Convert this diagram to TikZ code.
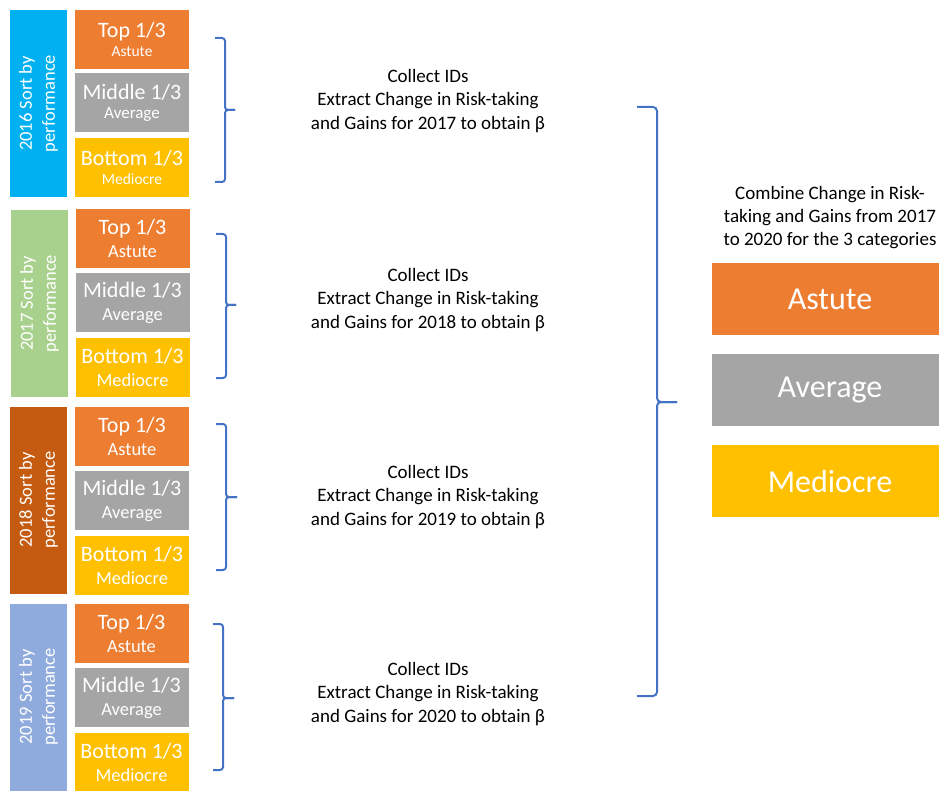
\documentclass[tikz,border=0pt]{standalone}
\usepackage{fontspec}
\setmainfont{Carlito}
\usetikzlibrary{positioning}
\definecolor{sortA}{HTML}{00B0F0}
\definecolor{sortB}{HTML}{A9D18E}
\definecolor{sortC}{HTML}{C55A11}
\definecolor{sortD}{HTML}{8FAADC}
\definecolor{topc}{HTML}{ED7D31}
\definecolor{midc}{HTML}{A5A5A5}
\definecolor{botc}{HTML}{FFC000}
\definecolor{bracec}{HTML}{4472C4}

\begin{document}
\begin{tikzpicture}[x=1pt,y=-1pt,
  bar/.style={minimum width=187pt,minimum height=57pt,inner sep=0pt,text=white,align=center,rotate=90,font=\fontsize{18.5}{23}\selectfont},
  box/.style={minimum width=114pt,minimum height=59pt,inner sep=0pt,text=white,align=center,font=\fontsize{22}{22}\selectfont},
  note/.style={align=center,font=\fontsize{19}{23.5}\selectfont},
  result/.style={minimum width=236pt,minimum height=72pt,inner sep=0pt,text=white,font=\fontsize{32}{32}\selectfont},
  bracket/.style={draw=bracec,line width=2pt,rounded corners=3pt}]
  \useasboundingbox (0,0) rectangle (939,791);
  \node (S16) [bar,fill=sortA] at (38.5,103.5) {2016 Sort by\\performance};
  \node (T16) [box,fill=topc] at (132,39.5) {Top 1/3\\[-3pt]{\fontsize{15.5}{16}\selectfont Astute}};
  \node (M16) [box,fill=midc,below=4pt of T16] {Middle 1/3\\[-3pt]{\fontsize{17}{17}\selectfont Average}};
  \node (B16) [box,fill=botc,below=5pt of M16] {Bottom 1/3\\[-3pt]{\fontsize{15.5}{16}\selectfont Mediocre}};
  \coordinate (u16) at (215,38);
  \coordinate (d16) at (215,182);
  \coordinate (t16) at (235,110);
  \draw[bracket] (u16) -- ++(10,0) |- (t16);
  \draw[bracket] (d16) -- ++(10,0) |- (t16);
  \node (C16) [note] at (428,101) {Collect IDs\\Extract Change in Risk-taking\\and Gains for 2017 to obtain β};

  \node (S17) [bar,fill=sortB] at (39.5,303.5) {2017 Sort by\\performance};
  \node (T17) [box,fill=topc] at (132.5,238.5) {Top 1/3\\[1pt]{\fontsize{18.5}{19}\selectfont Astute}};
  \node (M17) [box,fill=midc,below=5pt of T17] {Middle 1/3\\[1pt]{\fontsize{18.5}{19}\selectfont Average}};
  \node (B17) [box,fill=botc,below=5pt of M17] {Bottom 1/3\\[1pt]{\fontsize{18.5}{19}\selectfont Mediocre}};
  \coordinate (u17) at (216,234);
  \coordinate (d17) at (216,378);
  \coordinate (t17) at (236,305);
  \draw[bracket] (u17) -- ++(10,0) |- (t17);
  \draw[bracket] (d17) -- ++(10,0) |- (t17);
  \node (C17) [note] at (428,300) {Collect IDs\\Extract Change in Risk-taking\\and Gains for 2018 to obtain β};

  \node (S18) [bar,fill=sortC] at (38.5,500) {2018 Sort by\\performance};
  \node (T18) [box,fill=topc] at (132,436.5) {Top 1/3\\[1pt]{\fontsize{18.5}{19}\selectfont Astute}};
  \node (M18) [box,fill=midc,below=5pt of T18] {Middle 1/3\\[1pt]{\fontsize{18.5}{19}\selectfont Average}};
  \node (B18) [box,fill=botc,below=5pt of M18] {Bottom 1/3\\[1pt]{\fontsize{18.5}{19}\selectfont Mediocre}};
  \coordinate (u18) at (216,424);
  \coordinate (d18) at (216,570);
  \coordinate (t18) at (237,497);
  \draw[bracket] (u18) -- ++(10,0) |- (t18);
  \draw[bracket] (d18) -- ++(10,0) |- (t18);
  \node (C18) [note] at (428,497) {Collect IDs\\Extract Change in Risk-taking\\and Gains for 2019 to obtain β};

  \node (S19) [bar,fill=sortD] at (38.5,697) {2019 Sort by\\performance};
  \node (T19) [box,fill=topc] at (131.5,633.5) {Top 1/3\\[1pt]{\fontsize{18.5}{19}\selectfont Astute}};
  \node (M19) [box,fill=midc,below=5pt of T19] {Middle 1/3\\[1pt]{\fontsize{18.5}{19}\selectfont Average}};
  \node (B19) [box,fill=botc,below=5pt of M19] {Bottom 1/3\\[1pt]{\fontsize{18.5}{19}\selectfont Mediocre}};
  \coordinate (u19) at (213,624);
  \coordinate (d19) at (213,770);
  \coordinate (t19) at (234,698);
  \draw[bracket] (u19) -- ++(10,0) |- (t19);
  \draw[bracket] (d19) -- ++(10,0) |- (t19);
  \node (C19) [note] at (428,694) {Collect IDs\\Extract Change in Risk-taking\\and Gains for 2020 to obtain β};

  \coordinate (uall) at (637,107);
  \coordinate (dall) at (637,696);
  \coordinate (tall) at (677,402);
  \draw[bracket,rounded corners=4pt] (uall) -- ++(20,0) |- (tall);
  \draw[bracket,rounded corners=4pt] (dall) -- ++(20,0) |- (tall);
  \node (comb) [note,font=\fontsize{19}{23}\selectfont] at (830,218) {Combine Change in Risk-\\taking and Gains from 2017\\to 2020 for the 3 categories};
  \node (ast) [result,fill=topc] at (830,299.5) {Astute};
  \node (avg) [result,fill=midc,below=18pt of ast] {Average};
  \node (med) [result,fill=botc,below=19pt of avg] {Mediocre};
\end{tikzpicture}
\end{document}
